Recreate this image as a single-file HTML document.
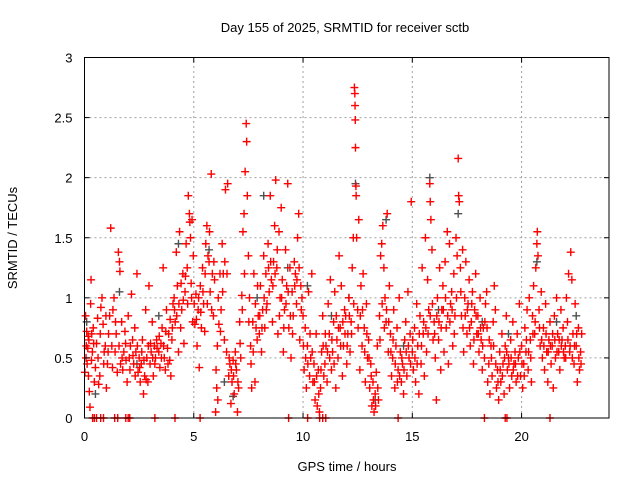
<!DOCTYPE html>
<html><head><meta charset="utf-8"><style>
html,body{margin:0;padding:0;background:#fff;}
svg{display:block;font-family:"Liberation Sans",sans-serif;}
</style></head><body>
<svg id="chart" width="640" height="480">
<text x="345" y="32" text-anchor="middle" font-size="13">Day 155 of 2025, SRMTID for receiver sctb</text>
<text x="347" y="471" text-anchor="middle" font-size="13">GPS time / hours</text>
<text transform="translate(17,238) rotate(-90)" text-anchor="middle" font-size="13">SRMTID / TECUs</text>
<g id="grid"></g><g id="gray"></g><g id="red"></g><g id="axes"></g>
</svg>
<script>
const xTicks=[0,5,10,15,20];
const yTicks=[0,0.5,1,1.5,2,2.5,3];
const yTickLabels=["0","0.5","1","1.5","2","2.5","3"];
const redPoints=[[0.02,0.38],[0.05,0.85],[0.08,0.6],[0.1,0.72],[0.12,0.45],[0.15,0.58],[0.18,0.35],[0.2,0.65],[0.22,0.22],[0.25,0.09],[0.28,0.95],[0.3,1.15],[0.33,0.7],[0.36,0.55],[0.4,0.75],[0.45,0.3],[0.5,0.42],[0.55,0.62],[0.6,0.83],[0.65,0.28],[0.7,0.35],[0.75,0.92],[0.8,1.0],[0.85,0.78],[0.9,0.55],[0.95,0.6],
[1.0,0.25],[1.05,0.45],[1.1,0.7],[1.15,0.85],[1.2,1.58],[1.25,0.6],[1.3,0.9],[1.35,1.0],[1.4,0.55],[1.45,0.7],[1.5,0.38],[1.55,1.38],[1.6,1.3],[1.62,1.22],[1.65,0.45],[1.7,0.8],[1.75,0.4],[1.8,0.55],[1.85,0.72],[1.9,0.48],[1.95,0.3],
[2.0,0.85],[2.05,0.5],[2.1,0.6],[2.15,1.03],[2.2,0.65],[2.25,0.45],[2.3,0.75],[2.35,0.55],[2.4,1.2],[2.45,0.38],[2.5,0.5],[2.55,0.3],[2.6,0.45],[2.65,0.65],[2.7,0.2],[2.75,0.35],[2.8,0.9],[2.85,0.5],[2.9,0.3],[2.95,1.1],
[3.0,0.45],[3.05,0.55],[3.1,0.8],[3.15,0.35],[3.2,0.6],[3.25,0.5],[3.3,0.65],[3.4,0.55],[3.45,0.42],[3.5,0.62],[3.55,0.75],[3.6,1.25],[3.65,0.5],[3.7,0.4],[3.75,0.9],[3.8,0.58],[3.85,0.7],[3.9,0.48],[3.95,0.35],
[4.0,0.65],[4.05,0.95],[4.1,1.0],[4.15,0.8],[4.2,1.38],[4.25,1.1],[4.3,0.55],[4.35,1.55],[4.4,0.75],[4.45,0.9],[4.5,1.2],[4.55,0.62],[4.6,1.05],[4.65,1.45],[4.7,1.25],[4.75,1.85],[4.8,1.7],[4.82,1.63],[4.85,1.5],[4.9,1.0],[4.95,0.8],[4.98,1.35],
[5.05,0.78],[5.1,1.03],[5.15,0.6],[5.2,0.9],[5.25,0.42],[5.3,1.1],[5.35,0.75],[5.4,1.25],[5.45,0.95],[5.5,0.72],[5.55,1.45],[5.6,1.6],[5.65,1.35],[5.7,1.3],[5.75,1.05],[5.8,2.03],[5.85,1.2],[5.9,0.85],[5.95,1.15],
[6.0,0.05],[6.02,0.4],[6.05,0.25],[6.08,0.6],[6.1,0.15],[6.15,0.78],[6.2,1.2],[6.25,0.9],[6.3,1.45],[6.35,1.2],[6.4,0.65],[6.45,1.9],[6.5,0.55],[6.55,1.95],[6.6,0.35],[6.65,0.45],[6.7,0.12],[6.75,0.3],[6.8,0.48],[6.85,0.2],[6.9,0.55],[6.95,0.4],
[7.0,0.05],[7.05,0.25],[7.1,0.8],[7.15,0.5],[7.2,1.02],[7.25,1.55],[7.3,1.7],[7.35,2.05],[7.4,2.45],[7.42,2.3],[7.45,1.85],[7.5,1.35],[7.55,1.0],[7.6,0.6],[7.65,0.25],[7.7,0.8],[7.75,1.2],[7.8,0.3],[7.85,0.75],[7.9,0.65],[7.95,0.85],
[8.0,0.7],[8.05,1.1],[8.1,0.55],[8.15,0.9],[8.2,1.35],[8.25,0.75],[8.3,1.2],[8.35,0.95],[8.4,1.45],[8.45,1.05],[8.5,1.85],[8.55,1.15],[8.6,0.8],[8.65,1.3],[8.7,1.6],[8.75,1.98],[8.8,1.25],[8.85,0.7],[8.9,1.55],[8.95,1.0],
[9.0,1.75],[9.05,1.15],[9.1,0.55],[9.15,0.9],[9.2,1.4],[9.25,1.1],[9.3,1.95],[9.35,0.75],[9.4,1.25],[9.45,0.5],[9.5,1.05],[9.55,0.85],[9.6,1.3],[9.65,1.2],[9.7,0.95],[9.75,1.5],[9.8,1.7],[9.85,0.65],[9.9,1.1],[9.95,1.0],
[10.0,0.85],[10.05,0.4],[10.1,0.75],[10.15,0.25],[10.2,0.6],[10.25,1.05],[10.3,0.35],[10.35,0.5],[10.4,1.2],[10.45,0.3],[10.5,0.45],[10.55,0.15],[10.6,0.7],[10.65,0.1],[10.7,0.4],[10.75,0.05],[10.8,0.25],[10.85,0.55],[10.9,0.85],[10.95,0.35],
[11.0,0.45],[11.05,0.6],[11.1,0.3],[11.15,0.95],[11.2,0.7],[11.25,1.15],[11.3,0.4],[11.35,0.55],[11.4,0.8],[11.45,1.05],[11.5,0.25],[11.55,0.65],[11.6,0.5],[11.65,1.35],[11.7,0.75],[11.75,1.1],[11.8,0.35],[11.85,0.6],[11.9,0.9],[11.95,0.85],
[12.0,0.45],[12.05,0.7],[12.1,1.0],[12.15,0.55],[12.2,0.8],[12.25,1.25],[12.3,1.5],[12.35,2.75],[12.37,2.7],[12.38,2.6],[12.39,2.48],[12.4,2.25],[12.42,1.93],[12.43,1.85],[12.45,1.5],[12.5,0.9],[12.55,1.65],[12.6,0.4],[12.65,1.1],[12.7,0.6],[12.75,1.2],[12.8,0.75],[12.85,0.3],[12.9,0.95],[12.95,0.5],
[13.0,0.65],[13.05,0.25],[13.1,0.45],[13.15,0.1],[13.2,0.3],[13.25,0.05],[13.3,0.2],[13.35,0.38],[13.4,0.6],[13.45,0.15],[13.5,0.85],[13.55,1.35],[13.6,1.45],[13.65,1.6],[13.7,1.25],[13.75,1.0],[13.8,0.8],[13.85,1.7],[13.9,0.55],[13.95,1.1],
[14.0,0.7],[14.05,0.35],[14.1,0.5],[14.15,0.9],[14.2,0.25],[14.25,0.6],[14.3,0.75],[14.35,0.4],[14.4,1.0],[14.45,0.55],[14.5,0.3],[14.55,0.45],[14.6,0.2],[14.65,0.65],[14.7,0.8],[14.75,0.35],[14.8,1.05],[14.85,0.5],[14.9,0.7],[14.95,1.8],
[15.0,0.55],[15.05,0.4],[15.1,0.75],[15.15,0.3],[15.2,0.95],[15.25,0.6],[15.3,0.2],[15.35,0.85],[15.4,0.45],[15.45,1.25],[15.5,0.7],[15.55,0.35],[15.6,1.5],[15.65,0.55],[15.7,1.15],[15.75,0.9],[15.8,1.95],[15.82,1.8],[15.85,1.65],[15.9,1.4],[15.95,0.65],
[16.0,0.8],[16.05,0.5],[16.1,0.15],[16.15,1.0],[16.2,0.65],[16.25,1.25],[16.3,0.4],[16.35,0.9],[16.4,1.1],[16.45,0.55],[16.5,1.3],[16.55,0.75],[16.6,1.55],[16.65,0.45],[16.7,1.45],[16.75,0.95],[16.8,1.05],[16.85,0.6],[16.9,1.2],[16.95,0.85],
[17.0,1.5],[17.05,1.35],[17.1,2.16],[17.12,1.85],[17.15,1.8],[17.2,1.25],[17.25,0.85],[17.3,1.4],[17.35,0.55],[17.4,1.0],[17.45,1.3],[17.5,0.7],[17.55,0.95],[17.6,1.15],[17.65,0.6],[17.7,0.8],[17.75,1.05],[17.8,0.45],[17.85,0.9],[17.9,1.2],[17.95,0.7],
[18.0,0.85],[18.05,0.55],[18.1,1.0],[18.15,0.65],[18.2,0.4],[18.25,0.75],[18.3,0.5],[18.35,0.95],[18.4,1.05],[18.45,0.3],[18.5,0.45],[18.55,0.2],[18.6,0.6],[18.65,0.35],[18.7,0.8],[18.75,1.1],[18.8,0.9],[18.85,0.25],[18.9,0.4],[18.95,0.15],
[19.0,0.55],[19.05,0.3],[19.1,0.7],[19.15,0.45],[19.2,0.2],[19.25,0.6],[19.3,0.85],[19.35,0.4],[19.4,0.5],[19.45,0.25],[19.5,0.65],[19.55,0.35],[19.6,0.8],[19.65,0.45],[19.7,0.55],[19.75,0.3],[19.8,0.7],[19.85,0.5],[19.9,0.95],[19.95,0.35],
[20.0,0.6],[20.05,0.25],[20.1,0.45],[20.15,0.75],[20.2,0.55],[20.25,0.9],[20.3,0.4],[20.35,1.0],[20.4,0.65],[20.45,0.3],[20.5,0.85],[20.55,1.1],[20.6,0.7],[20.65,1.25],[20.7,1.45],[20.72,1.55],[20.75,1.35],[20.8,0.9],[20.85,0.6],[20.9,1.05],[20.95,0.5],
[21.0,0.75],[21.05,0.4],[21.1,0.95],[21.15,0.55],[21.2,0.3],[21.25,0.65],[21.3,0.8],[21.35,0.45],[21.4,0.6],[21.45,0.25],[21.5,0.85],[21.55,0.5],[21.6,1.0],[21.65,0.7],[21.7,0.55],[21.75,0.4],[21.8,0.9],[21.85,0.65],[21.9,0.75],[21.95,0.5],
[22.0,0.6],[22.05,1.0],[22.1,0.8],[22.15,1.2],[22.2,0.55],[22.25,1.38],[22.3,1.15],[22.35,0.7],[22.4,0.45],[22.45,0.95],[22.5,0.6],[22.55,0.3],[22.6,0.75],[22.65,0.4],[22.7,0.55],[22.75,0.7]];
const redPointsDense=[[0.07,0.5],[0.17,0.68],[0.32,0.48],[0.42,0.62],[0.62,0.5],[0.72,0.7],[0.88,0.45],[0.98,0.85],
[1.08,0.55],[1.28,0.42],[1.42,0.8],[1.58,0.6],[1.72,0.5],[1.88,0.62],[2.08,0.4],[2.22,0.52],[2.32,0.35],[2.42,0.6],[2.52,0.42],[2.62,0.55],[2.72,0.48],[2.82,0.32],[2.92,0.6],
[3.02,0.62],[3.12,0.5],[3.22,0.45],[3.32,0.58],[3.42,0.68],[3.52,0.5],[3.62,0.6],[3.72,0.72],[3.82,0.45],[3.92,0.82],[4.02,0.75],[4.12,0.9],[4.22,0.85],[4.32,0.95],[4.42,1.12],[4.52,0.98],[4.62,1.18],[4.72,0.95],[4.88,1.12],[4.92,1.65],
[5.02,0.95],[5.12,0.82],[5.22,1.0],[5.32,0.88],[5.42,1.05],[5.52,1.2],[5.62,0.95],[5.72,1.55],[5.82,0.9],[5.92,1.3],[6.12,1.0],[6.22,0.72],[6.32,1.05],[6.42,1.3],[6.52,1.2],[6.62,0.5],[6.72,0.4],[6.82,0.35],[6.92,0.45],
[7.02,0.3],[7.12,0.62],[7.22,0.9],[7.32,1.2],[7.52,0.8],[7.62,0.45],[7.72,0.55],[7.82,0.95],[7.92,1.1],[8.02,0.85],[8.12,0.75],[8.22,1.0],[8.32,0.9],[8.42,1.25],[8.52,1.3],[8.62,1.1],[8.72,1.2],[8.82,1.4],[8.92,0.85],
[9.02,1.0],[9.12,0.75],[9.22,0.95],[9.32,1.05],[9.42,0.85],[9.52,0.7],[9.62,1.1],[9.72,1.15],[9.82,1.25],[9.92,0.9],[10.02,0.6],[10.12,0.5],[10.22,0.45],[10.32,0.7],[10.42,0.55],[10.52,0.3],[10.62,0.35],[10.72,0.2],[10.82,0.4],[10.92,0.6],
[11.02,0.7],[11.12,0.55],[11.22,0.5],[11.32,0.65],[11.42,0.45],[11.52,0.85],[11.62,0.75],[11.72,0.6],[11.82,0.8],[11.92,0.7],[12.02,0.6],[12.12,0.85],[12.22,0.7],[12.32,0.95],[12.52,0.75],[12.62,0.85],[12.72,0.9],[12.82,0.55],[12.92,0.7],
[13.02,0.5],[13.12,0.35],[13.22,0.15],[13.32,0.1],[13.42,0.25],[13.52,0.65],[13.62,0.95],[13.72,0.75],[13.82,0.9],[13.92,0.8],[14.02,0.55],[14.12,0.65],[14.22,0.45],[14.32,0.3],[14.42,0.35],[14.52,0.5],[14.62,0.4],[14.72,0.55],[14.82,0.6],[14.92,0.45],
[15.02,0.65],[15.12,0.5],[15.22,0.45],[15.32,0.7],[15.42,0.6],[15.52,0.8],[15.62,0.75],[15.72,0.7],[15.82,0.85],[15.92,0.95],[16.02,0.7],[16.12,0.85],[16.22,0.8],[16.32,0.75],[16.42,0.9],[16.52,1.0],[16.62,0.85],[16.72,0.8],[16.82,0.9],[16.92,0.7],
[17.02,1.0],[17.22,1.05],[17.32,0.75],[17.42,0.85],[17.52,0.9],[17.62,0.75],[17.72,0.95],[17.82,0.65],[17.92,0.85],[18.02,0.7],[18.12,0.75],[18.22,0.6],[18.32,0.8],[18.42,0.75],[18.52,0.65],[18.62,0.5],[18.72,0.6],[18.82,0.45],[18.92,0.3],
[19.02,0.4],[19.12,0.35],[19.22,0.5],[19.32,0.55],[19.42,0.45],[19.52,0.5],[19.62,0.4],[19.72,0.45],[19.82,0.35],[19.92,0.55],[20.02,0.45],[20.12,0.35],[20.22,0.65],[20.32,0.55],[20.42,0.5],[20.52,0.7],[20.62,0.8],[20.82,0.75],[20.92,0.65],
[21.02,0.6],[21.12,0.7],[21.22,0.55],[21.32,0.6],[21.42,0.7],[21.52,0.65],[21.62,0.55],[21.72,0.65],[21.82,0.6],[21.92,0.55],[22.02,0.5],[22.12,0.65],[22.22,0.6],[22.32,0.5],[22.42,0.6],[22.52,0.7],[22.62,0.5],[22.72,0.45]];
const zeroTimes=[0.37,0.45,0.55,0.74,0.87,1.38,1.52,1.89,2.0,2.07,3.22,4.14,5.29,9.34,10.21,10.76,10.9,11.04,14.35,18.3,19.25,19.33,21.3];
const grayPoints=[[0.1,0.8],[0.5,0.2],[1.6,1.05],[2.4,0.45],[3.4,0.85],[4.3,1.45],[5.7,1.4],[6.4,0.3],[6.8,0.18],[7.9,1.0],[8.2,1.85],[9.3,1.25],[10.2,1.1],[11.3,0.85],[12.1,1.0],[12.4,1.95],[13.3,0.15],[13.8,1.65],[14.6,0.6],[15.8,2.0],[16.2,0.9],[17.1,1.7],[18.2,0.8],[19.4,0.7],[20.7,1.3],[21.6,0.8],[22.5,0.85]];

const X0=84.5,X1=609,Y0=418,Y1=57.5,XMAX=24,YMAX=3;
const xs=t=>X0+(X1-X0)*t/XMAX;
const ys=v=>Y0-(Y0-Y1)*v/YMAX;
const NS="http://www.w3.org/2000/svg";
function mk(tag,attrs,parent){const e=document.createElementNS(NS,tag);for(const k in attrs)e.setAttribute(k,attrs[k]);parent.appendChild(e);return e;}
const grid=document.getElementById('grid'),axes=document.getElementById('axes');
xTicks.forEach(t=>{
  const x=xs(t);
  if(t>0){const g=mk('line',{x1:x,x2:x,y1:Y0,y2:Y1,stroke:'#a0a0a0','stroke-dasharray':'2,3','stroke-width':1},grid);
  
  }
  mk('line',{x1:x,x2:x,y1:Y0,y2:Y0-5,stroke:'#000'},axes);
  mk('line',{x1:x,x2:x,y1:Y1,y2:Y1+5,stroke:'#000'},axes);
  const l=mk('text',{x:x,y:Y0+23,'text-anchor':'middle','font-size':13},axes);l.textContent=String(t);
  
  
});
yTicks.forEach((v,i)=>{
  const y=ys(v);
  if(v>0&&v<YMAX){const g=mk('line',{x1:X0,x2:X1,y1:y,y2:y,stroke:'#a0a0a0','stroke-dasharray':'2,3','stroke-width':1},grid);
  
  }
  mk('line',{x1:X0,x2:X0+5,y1:y,y2:y,stroke:'#000'},axes);
  mk('line',{x1:X1,x2:X1-5,y1:y,y2:y,stroke:'#000'},axes);
  const l=mk('text',{x:X0-12,y:y+5,'text-anchor':'end','font-size':13},axes);l.textContent=yTickLabels[i];
  
  
});
const frame=mk('rect',{x:X0,y:Y1,width:X1-X0,height:Y0-Y1,fill:'none',stroke:'#000','stroke-width':1},axes);


function plus(t,v,color,parent,name){
  const x=xs(t),y=ys(v),a=4;
  const p=mk('path',{d:`M${x-a},${y}H${x+a}M${x},${y-a}V${y+a}`,stroke:color,'stroke-width':1.4,fill:'none'},parent);
  
  
}
const gG=document.getElementById('gray'),gR=document.getElementById('red');
grayPoints.forEach(p=>plus(p[0],p[1],'#505050',gG,'gray-point'));
redPoints.forEach(p=>plus(p[0],p[1],'#ff0000',gR,'red-point'));
redPointsDense.forEach(p=>plus(p[0],p[1],'#ff0000',gR,'red-point'));
zeroTimes.forEach(t=>plus(t,0,'#ff0000',gR,'zero-point'));
</script>
</body></html>
